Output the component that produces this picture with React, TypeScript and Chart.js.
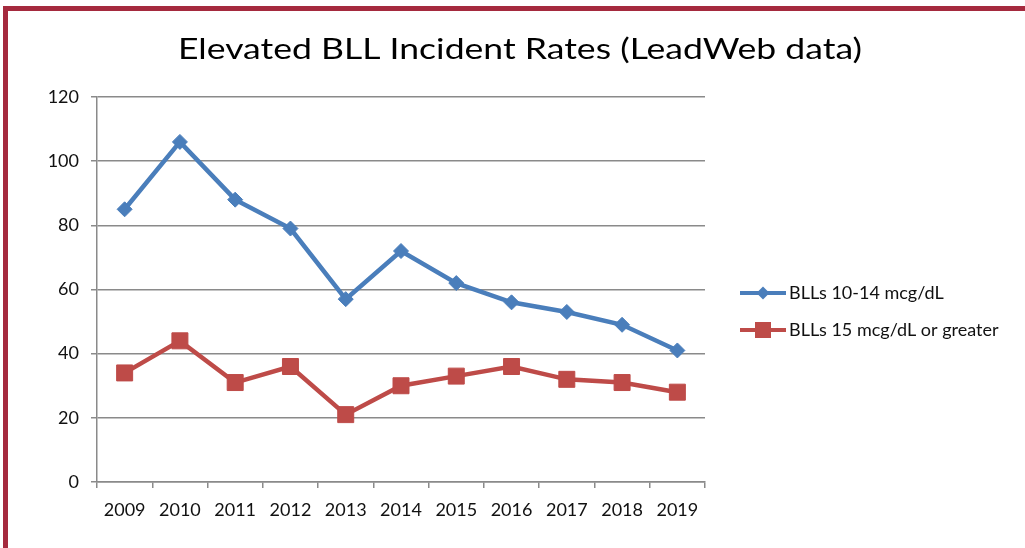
import React, { useEffect, useRef } from "react";
import { Chart, registerables } from "chart.js";

Chart.register(...registerables);

const TITLE = "Elevated BLL Incident Rates (LeadWeb data)";
const years = ["2009", "2010", "2011", "2012", "2013", "2014", "2015", "2016", "2017", "2018", "2019"];
const bll10to14 = [85, 106, 88, 79, 57, 72, 62, 56, 53, 49, 41];
const bll15plus = [34, 44, 31, 36, 21, 30, 33, 36, 32, 31, 28];
const seriesNames = ["BLLs 10-14 mcg/dL", "BLLs 15 mcg/dL or greater"];

const BLUE = "#4A7EBB";
const RED = "#BE4B48";
const GRID = "#8a8a8a";
const FONT = "Lato";

const overlay = {
  id: "overlay",
  afterDraw(chart: any) {
    const ctx = chart.ctx;
    ctx.save();
    ctx.fillStyle = "#000";
    ctx.font = `29px ${FONT}`;
    ctx.textAlign = "center";
    ctx.textBaseline = "middle";
    const w = ctx.measureText(TITLE).width;
    const sx = 684 / w;
    ctx.save();
    ctx.translate(520, 50);
    ctx.scale(sx, 1);
    ctx.fillText(TITLE, 0, 0);
    ctx.restore();

    const rows = [293, 330];
    chart.data.datasets.forEach((ds: any, i: number) => {
      const y = rows[i];
      ctx.strokeStyle = ds.borderColor;
      ctx.lineWidth = 4;
      ctx.beginPath();
      ctx.moveTo(740, y);
      ctx.lineTo(786, y);
      ctx.stroke();
      ctx.fillStyle = ds.borderColor;
      ctx.beginPath();
      if (i === 0) {
        const r = 6.5;
        ctx.moveTo(763, y - r);
        ctx.lineTo(763 + r, y);
        ctx.lineTo(763, y + r);
        ctx.lineTo(763 - r, y);
        ctx.closePath();
      } else {
        ctx.rect(763 - 8, y - 8, 16, 16);
      }
      ctx.fill();
      ctx.fillStyle = "#111";
      ctx.font = `18px ${FONT}`;
      ctx.textAlign = "left";
      ctx.textBaseline = "middle";
      ctx.fillText(ds.label, 789, y);
    });
    ctx.restore();
  },
};

export default function App() {
  const ref = useRef<HTMLCanvasElement>(null);
  useEffect(() => {
    if (!ref.current) return;
    const chart = new Chart(ref.current, {
      type: "line",
      data: {
        labels: years,
        datasets: [
          {
            label: seriesNames[0],
            data: bll10to14,
            borderColor: BLUE,
            backgroundColor: BLUE,
            borderWidth: 4.5,
            pointStyle: "rectRot",
            pointRadius: 7.5,
            pointBorderWidth: 1,
            tension: 0,
          },
          {
            label: seriesNames[1],
            data: bll15plus,
            borderColor: RED,
            backgroundColor: RED,
            borderWidth: 4.5,
            pointStyle: "rect",
            pointRadius: 11.3,
            pointBorderWidth: 1,
            tension: 0,
          },
        ],
      },
      options: {
        responsive: false,
        animation: false,
        layout: { padding: { top: 97, right: 320, left: 0, bottom: 0 } },
        plugins: { legend: { display: false }, title: { display: false }, tooltip: { enabled: false } },
        scales: {
          x: {
            type: "category",
            offset: true,
            afterFit: (s: any) => { s.height = 66; },
            grid: { offset: true, drawOnChartArea: false, drawTicks: true, tickLength: 6, color: GRID, lineWidth: 1.5 },
            border: { color: GRID, width: 1.5 },
            ticks: { color: "#111", font: { family: FONT, size: 18 }, padding: 11, maxRotation: 0, autoSkip: false },
          },
          y: {
            min: 0,
            max: 120,
            afterFit: (s: any) => { s.width = 97; },
            grid: { color: GRID, lineWidth: 1.5, tickLength: 6, drawTicks: true },
            border: { color: GRID, width: 1.5 },
            ticks: { stepSize: 20, color: "#111", font: { family: FONT, size: 18 }, padding: 12 },
          },
        },
      },
      plugins: [overlay],
    });
    return () => chart.destroy();
  }, []);

  return (
    <div style={{ position: "absolute", left: 0, top: 0, width: 1025, height: 548, background: "#fff", overflow: "hidden" }}>
      <canvas ref={ref} width={1025} height={548} style={{ position: "absolute", left: 0, top: 0 }} />
      <div
        style={{
          position: "absolute",
          left: 3,
          top: 6,
          width: 1100,
          height: 600,
          borderLeft: "5px solid #A52A3E",
          borderTop: "5px solid #A52A3E",
          pointerEvents: "none",
        }}
      />
    </div>
  );
}
